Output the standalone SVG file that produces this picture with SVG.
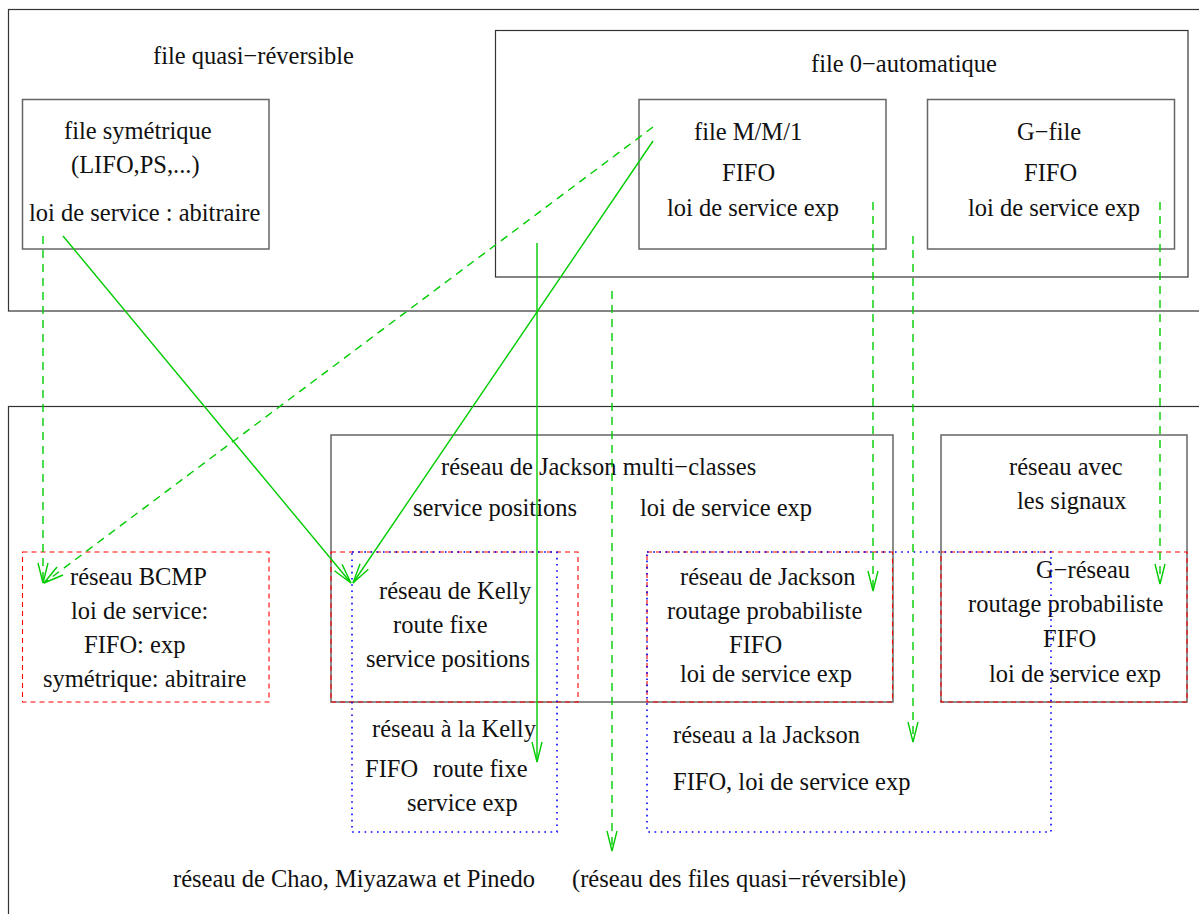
<svg xmlns="http://www.w3.org/2000/svg" width="1199" height="914" viewBox="0 0 1199 914">
<style>
text{font-family:"Liberation Serif","Times New Roman",serif;font-size:24.5px;fill:#111}
.outer{fill:none;stroke:#333;stroke-width:1.2}
.box{fill:none;stroke:#666;stroke-width:1.5}
.red{fill:none;stroke:#ff0000;stroke-width:1.1;stroke-dasharray:5,4}
.blue{fill:none;stroke:#0000ff;stroke-width:1.6;stroke-dasharray:1.6,4.6}
.g{fill:none;stroke:#00cc00;stroke-width:1.4}
.gd{fill:none;stroke:#00cc00;stroke-width:1.4;stroke-dasharray:8,6}
</style>
<defs>
<marker id="ah" markerUnits="userSpaceOnUse" markerWidth="24" markerHeight="14" viewBox="-22 -7 24 14" refX="0" refY="0" orient="auto">
<path d="M-20,-5 L0,0 L-20,5" fill="none" stroke="#00cc00" stroke-width="1.4"/>
</marker>
</defs>
<rect id="bg" x="0" y="0" width="1199" height="914" fill="#fff"/>
<g id="quasi-reversible">
<rect class="outer" x="8.5" y="9.5" width="1210" height="301.5"/>
<text x="153" y="64">file quasi−réversible</text>
</g>
<g id="file-symetrique">
<rect class="box" x="22.5" y="99.5" width="246.5" height="149.5"/>
<text x="64" y="139">file symétrique</text>
<text x="71" y="173">(LIFO,PS,...)</text>
<text x="29" y="221">loi de service : abitraire</text>
</g>
<g id="file-0-automatique">
<rect class="outer" x="495.5" y="30.5" width="692.5" height="246.5"/>
<text x="811" y="72">file 0−automatique</text>
</g>
<g id="file-mm1">
<rect class="box" x="639" y="99.5" width="247" height="149.5"/>
<text x="694" y="140">file M/M/1</text>
<text x="722" y="181">FIFO</text>
<text x="667" y="216">loi de service exp</text>
</g>
<g id="g-file">
<rect class="box" x="927.5" y="99.5" width="247" height="149.5"/>
<text x="1017" y="140">G−file</text>
<text x="1024" y="181">FIFO</text>
<text x="968" y="216">loi de service exp</text>
</g>
<g id="cmp">
<rect class="outer" x="8.5" y="406.5" width="1210" height="530"/>
<text x="173" y="887">réseau de Chao, Miyazawa et Pinedo</text>
<text x="572" y="887">(réseau des files quasi−réversible)</text>
</g>
<g id="jackson-multi">
<rect class="box" x="331" y="435" width="562" height="267"/>
<text x="441" y="475">réseau de Jackson multi−classes</text>
<text x="413" y="516">service positions</text>
<text x="640" y="516">loi de service exp</text>
</g>
<g id="reseau-signaux">
<rect class="box" x="941" y="435" width="246" height="267"/>
<text x="1009" y="475">réseau avec</text>
<text x="1017" y="509">les signaux</text>
</g>
<g id="bcmp">
<rect class="red" x="22.5" y="552" width="246.5" height="150"/>
<text x="70" y="585">réseau BCMP</text>
<text x="71" y="619">loi de service:</text>
<text x="84" y="653">FIFO: exp</text>
<text x="43" y="687">symétrique: abitraire</text>
</g>
<g id="kelly">
<rect class="red" x="331" y="552" width="247" height="150"/>
<text x="379" y="599">réseau de Kelly</text>
<text x="393" y="633">route fixe</text>
<text x="366" y="667">service positions</text>
</g>
<g id="jackson">
<rect class="red" x="647" y="552" width="245.5" height="150"/>
<text x="680" y="585">réseau de Jackson</text>
<text x="667" y="619">routage probabiliste</text>
<text x="729" y="653">FIFO</text>
<text x="680" y="682">loi de service exp</text>
</g>
<g id="g-reseau">
<rect class="red" x="941" y="552" width="246" height="150"/>
<text x="1036" y="578">G−réseau</text>
<text x="968" y="612">routage probabiliste</text>
<text x="1043" y="647">FIFO</text>
<text x="989" y="682">loi de service exp</text>
</g>
<g id="a-la-kelly">
<rect class="blue" x="352" y="552" width="205" height="280"/>
<text x="372" y="737">réseau à la Kelly</text>
<text x="365" y="777">FIFO</text>
<text x="433" y="777">route fixe</text>
<text x="407" y="811">service exp</text>
</g>
<g id="a-la-jackson">
<rect class="blue" x="647" y="552" width="404" height="280"/>
<text x="673" y="743">réseau a la Jackson</text>
<text x="673" y="790">FIFO, loi de service exp</text>
</g>
<g id="connectors">
<line class="gd" x1="43" y1="236" x2="43" y2="583" marker-end="url(#ah)"/>
<line class="g" x1="63" y1="236" x2="351" y2="583" marker-end="url(#ah)"/>
<line class="gd" x1="653" y1="127" x2="44" y2="583" marker-end="url(#ah)"/>
<line class="g" x1="653" y1="141" x2="353" y2="583" marker-end="url(#ah)"/>
<line class="g" x1="537" y1="243" x2="537" y2="762" marker-end="url(#ah)"/>
<line class="gd" x1="612" y1="291" x2="612" y2="851" marker-end="url(#ah)"/>
<line class="gd" x1="873" y1="202" x2="873" y2="591" marker-end="url(#ah)"/>
<line class="gd" x1="913" y1="236" x2="913" y2="742" marker-end="url(#ah)"/>
<line class="gd" x1="1160" y1="202" x2="1160" y2="584" marker-end="url(#ah)"/>
</g>
</svg>
